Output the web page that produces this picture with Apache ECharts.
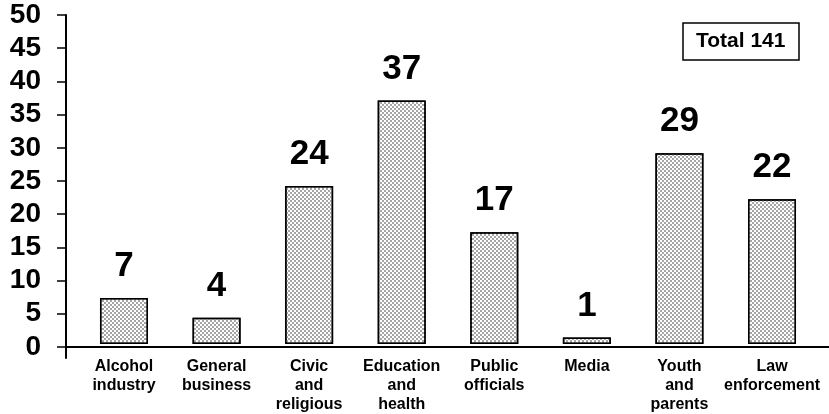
<!DOCTYPE html>
<html>
<head>
<meta charset="utf-8">
<script src="https://cdn.jsdelivr.net/npm/echarts@6/dist/echarts.min.js"></script>
<style>
  html, body { margin: 0; padding: 0; background: #fff; }
  #chart { width: 829px; height: 414px; }
</style>
</head>
<body>
<div id="chart"></div>
<script>
// Sectors represented on the coalition and their member counts
const categories = [
  'Alcohol\nindustry', 'General\nbusiness', 'Civic\nand\nreligious', 'Education\nand\nhealth',
  'Public\nofficials', 'Media', 'Youth\nand\nparents', 'Law\nenforcement'
];
const members = [7, 4, 24, 37, 17, 1, 29, 22];
const yTicks = [0, 5, 10, 15, 20, 25, 30, 35, 40, 45, 50];
const totalLabel = 'Total 141';

const FONT = '"Liberation Sans", Arial, Helvetica, sans-serif';
const Y_MIN = -1.66, Y_MAX = 50;

const chart = echarts.init(document.getElementById('chart'), null, { renderer: 'canvas' });

chart.setOption({
  animation: false,
  backgroundColor: '#fff',
  title: {
    text: totalLabel,
    left: 683,
    top: 23,
    padding: [8, 14, 8, 13],
    borderColor: '#000',
    borderWidth: 1.5,
    textStyle: { fontFamily: FONT, fontWeight: 'bold', fontSize: 21, color: '#000' }
  },
  grid: [
    // frame grid: carries the y axis and the baseline
    { left: 66, right: 0, top: 15, bottom: 56 },
    // bar grid: category slots
    { left: 77.7, right: 10.7, top: 15, bottom: 56 }
  ],
  xAxis: [
    {
      gridIndex: 0, type: 'value', min: 0, max: 1,
      axisLine: { show: true, onZero: true, lineStyle: { color: '#000', width: 2 } },
      axisTick: { show: false }, axisLabel: { show: false }, splitLine: { show: false }
    },
    {
      gridIndex: 1, type: 'category', data: categories,
      axisLine: { show: false, onZero: false },
      axisTick: { show: false },
      splitLine: { show: false },
      axisLabel: {
        interval: 0, margin: 2,
        fontFamily: FONT, fontWeight: 'bold', fontSize: 16, lineHeight: 19, color: '#000'
      }
    }
  ],
  yAxis: [
    {
      gridIndex: 0, type: 'value', min: Y_MIN, max: Y_MAX,
      axisLine: { show: true, onZero: false, lineStyle: { color: '#000', width: 2 } },
      axisTick: { show: true, length: 9, customValues: yTicks, lineStyle: { color: '#000', width: 1.5 } },
      splitLine: { show: false },
      axisLabel: {
        customValues: yTicks, margin: 25,
        fontFamily: FONT, fontWeight: 'bold', fontSize: 28, color: '#000'
      }
    },
    {
      gridIndex: 1, type: 'value', min: Y_MIN, max: Y_MAX, show: false
    }
  ],
  series: [{
    type: 'bar',
    xAxisIndex: 1,
    yAxisIndex: 1,
    data: members,
    barWidth: 48,
    itemStyle: {
      color: '#ffffff',
      borderColor: '#000',
      borderWidth: 1.5,
      decal: {
        symbol: 'rect',
        symbolSize: 1,
        color: '#a6a6a6',
        dashArrayX: [[2, 2], [0, 2, 2, 0]],
        dashArrayY: [2, 0],
        rotation: 0
      }
    },
    label: {
      show: true,
      position: 'top',
      distance: 14,
      fontFamily: FONT,
      fontWeight: 'bold',
      fontSize: 35,
      color: '#000'
    }
  }]
});
</script>
</body>
</html>
